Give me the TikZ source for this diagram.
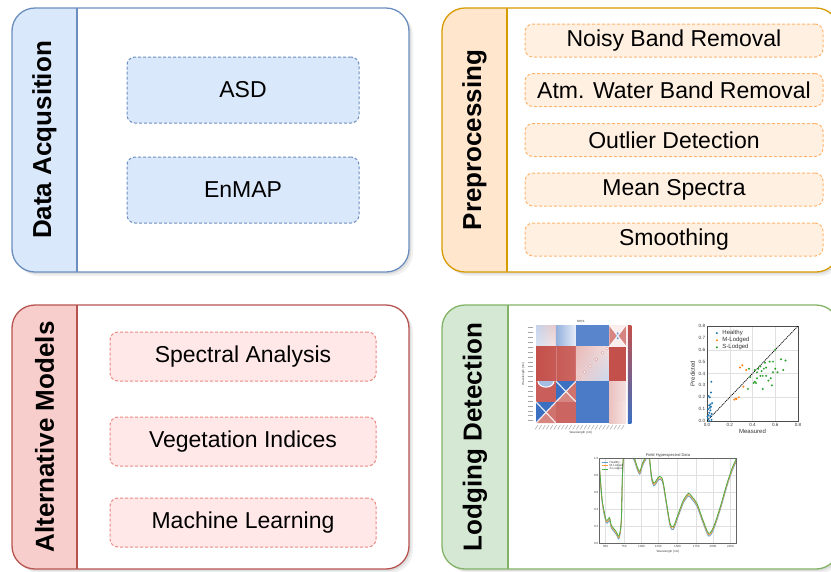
\documentclass[tikz,border=0pt]{standalone}
\usepackage{fontspec}
\setmainfont{Liberation Sans}
\usetikzlibrary{shadings}
\definecolor{bBorder}{HTML}{6C8EBF}
\definecolor{bFill}{HTML}{DAE8FC}
\definecolor{oBorder}{HTML}{D79B00}
\definecolor{oFill}{HTML}{FFE6CC}
\definecolor{oInFill}{HTML}{FFF0E1}
\definecolor{oDash}{HTML}{FFB570}
\definecolor{rBorder}{HTML}{B85450}
\definecolor{rFill}{HTML}{F8CECC}
\definecolor{rInFill}{HTML}{FFE8E7}
\definecolor{rDash}{HTML}{EA8884}
\definecolor{gBorder}{HTML}{82B366}
\definecolor{gFill}{HTML}{D5E8D4}
\definecolor{hmR}{HTML}{C4504B}
\definecolor{hmB}{HTML}{3B6FC2}
\definecolor{hblue}{HTML}{1F77B4}
\definecolor{horange}{HTML}{FF7F0E}
\definecolor{hgreen}{HTML}{2CA02C}
\tikzset{
  panelbox/.style={rectangle, fill=white, inner sep=0pt, outer sep=0pt, rounded corners=23pt},
  titletext/.style={font=\fontsize{26}{30}\selectfont\bfseries, inner sep=0pt, rotate=90},
  itembox/.style={rectangle, rounded corners=8pt, dashed, dash pattern=on 3pt off 2pt, line width=1pt, font=\fontsize{23}{27}\selectfont, inner sep=0pt},
  blueitem/.style={itembox, fill=bFill, draw=bBorder, minimum width=232pt, minimum height=66pt},
  orangeitem/.style={itembox, fill=oInFill, draw=oDash, minimum width=298pt, minimum height=33pt},
  reditem/.style={itembox, fill=rInFill, draw=rDash, minimum width=266pt, minimum height=49pt},
  gridc/.style={black!12, line width=0.3pt},
  tinytxt/.style={font=\fontsize{3}{3.5}\selectfont, inner sep=0.4pt, text=black!75},
  smalltxt/.style={font=\fontsize{4.6}{5}\selectfont, inner sep=0.6pt, text=black!80},
  legtxt/.style={font=\fontsize{6}{7}\selectfont, inner sep=0.5pt, text=black!80},
  smudge/.style={black!35, line width=0.5pt},
  xline/.style={white, line width=1.2pt, opacity=0.85},
}
% name, x1, y1, x2, y2, divider x, border colour, title fill, title
\newcommand\mkpanel[9]{%
  \fill[black, opacity=0.06, rounded corners=23pt] (#2+4,#3+4) rectangle (#4+4,#5+4);
  \fill[black, opacity=0.08, rounded corners=23pt] (#2+2,#3+2) rectangle (#4+2,#5+2);
  \node[panelbox, minimum width={(#4-#2)*1pt}, minimum height={(#5-#3)*1pt}] (#1) at ({(#2+#4)/2},{(#3+#5)/2}) {};
  \begin{scope}
    \clip (#2-2,#3-2) rectangle (#6,#5+2);
    \fill[#8, rounded corners=23pt] (#1.north west) rectangle (#1.south east);
  \end{scope}
  \draw[#7, line width=1.3pt, rounded corners=23pt] (#1.north west) rectangle (#1.south east);
  \draw[#7, line width=1.3pt] (#6,#3) -- (#6,#5);
  \node[titletext] (#1t) at ({(#2+#6)/2},{(#3+#5)/2}) {#9};
}
\begin{document}
\begin{tikzpicture}[x=1pt,y=-1pt]
\useasboundingbox (0,0) rectangle (831,571);
\clip (0,0) rectangle (831,571);
\fill[white] (0,0) rectangle (831,571);

% ---------------- panels
\mkpanel{acq}{12}{8}{409}{272}{77}{bBorder}{bFill}{Data Acqusition}
\mkpanel{pre}{442}{8}{839}{272}{507}{oBorder}{oFill}{Preprocessing}
\mkpanel{alt}{12}{305}{409}{569}{77}{rBorder}{rFill}{Alternative Models}
\mkpanel{lod}{442}{305}{839}{569}{508}{gBorder}{gFill}{Lodging Detection}

% ---------------- data acquisition
\node[blueitem] (asd) at (243,90) {ASD};
\node[blueitem] (enmap) at (243,190) {EnMAP};

% ---------------- preprocessing
\node[orangeitem] (noisy) at (674,40.5) {Noisy Band Removal};
\node[orangeitem] (water) at (674,90) {Atm. Water Band Removal};
\node[orangeitem] (outl) at (674,140) {Outlier Detection};
\node[orangeitem] (mean) at (674,189.5) {Mean Spectra};
\node[orangeitem] (smooth) at (674,239.5) {Smoothing};

% ---------------- alternative models
\node[reditem] (spec) at (243,356.5) {Spectral Analysis};
\node[reditem] (veg) at (243,441.5) {Vegetation Indices};
\node[reditem] (ml) at (243,522.5) {Machine Learning};

% ---------------- heatmap (cols 0,.222,.444,.815,1 ; rows 0,.221,.573,.784,1)
\begin{scope}[shift={(536,325)}, x=90pt, y=-98pt]
  % row 1
  \shade[upper left=hmB!30!white, upper right=hmR!30!white, lower left=hmB!20!white, lower right=hmR!15!white] (0,0) rectangle (0.222,0.221);
  \shade[left color=hmB!55!white, right color=hmB!12!white] (0.222,0) rectangle (0.444,0.221);
  \fill[hmB!85!white] (0.444,0) rectangle (0.815,0.221);
  \fill[hmR!10!white] (0.815,0) rectangle (1,0.221);
  \fill[hmR!70!white] (0.815,0) -- (0.9075,0.11) -- (0.815,0.221) -- cycle;
  \fill[hmR!70!white] (1,0) -- (0.9075,0.11) -- (1,0.221) -- cycle;
  \fill[hmB!75!white] (0.9075,0.11) ellipse [x radius=1.6pt, y radius=3.5pt];
  \draw[xline] (0.815,0) -- (1,0.221) (0.815,0.221) -- (1,0);
  % row 2
  \shade[left color=hmR, right color=hmR!88!white] (0,0.221) rectangle (0.444,0.573);
  \draw[hmR!75!white, line width=0.6pt] (0.222,0.221) -- (0.222,0.573);
  \shade[upper left=hmR!40!white, upper right=hmR!18!white, lower left=hmR!28!white, lower right=hmB!28!white] (0.444,0.221) rectangle (0.815,0.573);
  \foreach \cx/\cy in {0.48/0.54, 0.54/0.48, 0.60/0.42, 0.67/0.35, 0.74/0.28, 0.79/0.24}
    \filldraw[fill=white, draw=hmR!55!white, line width=0.4pt] (\cx,\cy) circle (1.5pt);
  \fill[hmR] (0.815,0.221) rectangle (1,0.573);
  % row 3
  \fill[hmR!92!white] (0,0.573) rectangle (0.222,0.784);
  \begin{scope}
    \clip (0,0.573) rectangle (0.222,0.784);
    \filldraw[fill=hmB!45!white, draw=white, line width=1pt] (0.111,0.573) ellipse [x radius=8pt, y radius=6pt];
  \end{scope}
  \fill[hmB] (0.222,0.573) rectangle (0.444,0.784);
  \fill[hmR!80!white] (0.444,0.573) -- (0.333,0.6785) -- (0.444,0.784) -- cycle;
  \fill[hmR!70!white] (0.222,0.784) -- (0.333,0.6785) -- (0.444,0.784) -- cycle;
  \draw[xline] (0.222,0.573) -- (0.444,0.784) (0.222,0.784) -- (0.444,0.573);
  \fill[hmB!92!white] (0.444,0.573) rectangle (0.815,0.784);
  \shade[left color=hmR!35!white, right color=hmR!18!white] (0.815,0.573) rectangle (1,0.784);
  % row 4
  \fill[hmB] (0,0.784) rectangle (0.222,1);
  \fill[hmR!80!white] (0.222,0.784) -- (0.111,0.892) -- (0.222,1) -- cycle;
  \fill[hmR!70!white] (0,1) -- (0.111,0.892) -- (0.222,1) -- cycle;
  \draw[xline] (0,0.784) -- (0.222,1) (0,1) -- (0.222,0.784);
  \fill[hmR!88!white] (0.222,0.784) rectangle (0.444,1);
  \fill[hmB!92!white] (0.444,0.784) rectangle (0.815,1);
  \shade[left color=hmR!35!white, right color=hmR!15!white] (0.815,0.784) rectangle (1,1);
  % colour bar
  \shade[top color=hmR, middle color=white, bottom color=hmB] (1.02,0) rectangle (1.06,1);
  \foreach \i in {0,...,19}
    \draw[smudge] (-0.09,{(\i+0.5)/20}) -- (-0.03,{(\i+0.5)/20});
  \foreach \i in {0,...,23}
    \draw[smudge] ({(\i+0.5)/24},1.02) -- ({(\i+0.5)/24-0.03},1.065);
  \node[tinytxt] (hmtitle) at (0.5,-0.04) {NRHL};
  \node[tinytxt] (hmxl) at (0.5,1.1) {Wavelength (nm)};
  \node[tinytxt, rotate=90] (hmyl) at (-0.14,0.5) {Wavelength (nm)};
\end{scope}

% ---------------- scatter plot
\begin{scope}[shift={(707,421)}, x=113.75pt, y=118.75pt]
  \foreach \v in {0.2,0.4,0.6} {
    \draw[gridc] (\v,0) -- (\v,0.8);
    \draw[gridc] (0,\v) -- (0.8,\v);
  }
  \draw[black!70, line width=0.4pt] (0,0) rectangle (0.8,0.8);
  \draw[black, dashed, dash pattern=on 1.2pt off 0.8pt, line width=0.7pt] (0,0) -- (0.8,0.8);
  \foreach \px/\py in {0.038/0.33, 0.035/0.24, 0.015/0.21, 0.025/0.20, 0.03/0.14, 0.02/0.13, 0.035/0.12, 0.01/0.10, 0.03/0.09, 0.02/0.07, 0.04/0.06, 0.015/0.05, 0.03/0.04, 0.01/0.02, 0.04/0.01, 0.02/0.0, 0.045/0.15, 0.005/0.04, 0.025/0.11}
    \fill[hblue] (\px,\py) circle (1.1pt);
  \foreach \px/\py in {0.31/0.47, 0.29/0.45, 0.345/0.43, 0.32/0.29, 0.24/0.18, 0.26/0.185, 0.28/0.20, 0.255/0.19}
    \fill[horange] (\px,\py) circle (1.1pt);
  \foreach \px/\py in {0.60/0.60, 0.65/0.52, 0.69/0.51, 0.55/0.50, 0.58/0.50, 0.51/0.49, 0.47/0.46, 0.52/0.45, 0.50/0.44, 0.42/0.43, 0.45/0.44, 0.37/0.44, 0.44/0.41, 0.48/0.42, 0.60/0.44, 0.62/0.41, 0.67/0.43, 0.58/0.41, 0.49/0.38, 0.47/0.38, 0.44/0.36, 0.52/0.38, 0.38/0.37, 0.41/0.32, 0.43/0.32, 0.54/0.34, 0.56/0.36, 0.57/0.30, 0.36/0.27, 0.49/0.27, 0.42/0.33}
    \fill[hgreen] (\px,\py) circle (1.1pt);
  \foreach \v/\l [count=\k] in {0/0.0, 0.2/0.2, 0.4/0.4, 0.6/0.6, 0.8/0.8} {
    \node[smalltxt, anchor=north] (sx\k) at (\v,-0.01) {\l};
  }
  \foreach \v/\l [count=\k] in {0/0.0, 0.1/0.1, 0.2/0.2, 0.3/0.3, 0.4/0.4, 0.5/0.5, 0.6/0.6, 0.7/0.7, 0.8/0.8} {
    \node[smalltxt, anchor=east] (sy\k) at (-0.01,\v) {\l};
  }
  \fill[hblue] (0.087,0.74) circle (1.1pt);
  \fill[horange] (0.087,0.68) circle (1.1pt);
  \fill[hgreen] (0.087,0.62) circle (1.1pt);
  \node[legtxt, anchor=west] (lh) at (0.13,0.74) {Healthy};
  \node[legtxt, anchor=west] (lm) at (0.13,0.68) {M-Lodged};
  \node[legtxt, anchor=west] (ls) at (0.13,0.62) {S-Lodged};
  \node[legtxt, anchor=north] (sxl) at (0.4,-0.06) {Measured};
  \node[legtxt, anchor=south, rotate=90] (syl) at (-0.1,0.4) {Predicted};
\end{scope}

% ---------------- spectra plot
\begin{scope}[shift={(599.5,543.5)}, x=137pt, y=85pt]
  \foreach \v in {0.044,0.179,0.307,0.429,0.569,0.706,0.829,0.956}
    \draw[gridc] (\v,0) -- (\v,1);
  \foreach \v in {0.2,0.4,0.6,0.8}
    \draw[gridc] (0,\v) -- (1,\v);
  \begin{scope}
    \clip (0,0) rectangle (1,1);
    \def\spec{(0,0.874) (0.0196,0.48) (0.049,0.244) (0.0735,0.272) (0.0858,0.185) (0.1225,0.106) (0.142,0.055) (0.159,0.244) (0.176,1.0) (0.245,1.0) (0.2745,0.874) (0.294,0.815) (0.314,0.913) (0.343,1.0) (0.363,0.992) (0.38,0.756) (0.397,0.677) (0.417,0.717) (0.436,0.756) (0.461,0.717) (0.49,0.441) (0.515,0.205) (0.539,0.165) (0.576,0.323) (0.613,0.48) (0.65,0.559) (0.674,0.52) (0.711,0.441) (0.755,0.244) (0.797,0.087) (0.833,0.165) (0.882,0.402) (0.931,0.677) (0.968,0.854) (1.0,0.972)}
    \draw[hblue!70!white, line width=0.8pt] plot[smooth, tension=0.45] coordinates {\spec};
    \draw[horange!80!white, line width=0.8pt, yshift=1.4pt] plot[smooth, tension=0.45] coordinates {\spec};
    \draw[hgreen!85!white, line width=0.8pt, yshift=2.8pt] plot[smooth, tension=0.45] coordinates {\spec};
  \end{scope}
  \draw[black!60, line width=0.3pt] (0,0) rectangle (1,1);
  \draw[hblue!70!white, line width=0.5pt] (0.02,0.955) -- (0.06,0.955);
  \draw[horange!80!white, line width=0.5pt] (0.02,0.915) -- (0.06,0.915);
  \draw[hgreen!85!white, line width=0.5pt] (0.02,0.875) -- (0.06,0.875);
  \node[tinytxt, anchor=west] (slh) at (0.07,0.955) {Healthy};
  \node[tinytxt, anchor=west] (slm) at (0.07,0.915) {M-Lodged};
  \node[tinytxt, anchor=west] (sls) at (0.07,0.875) {S-Lodged};
  \node[font=\fontsize{4}{4.5}\selectfont, inner sep=0.5pt, text=black!75, anchor=south] (stitle) at (0.5,1.0) {Field Hyperspectral Data};
  \foreach \v/\l [count=\k] in {0.044/500, 0.179/750, 0.307/1000, 0.429/1250, 0.569/1500, 0.706/1750, 0.829/2000, 0.956/2250}
    \node[tinytxt, anchor=north] (tx\k) at (\v,-0.01) {\l};
  \foreach \v/\l [count=\k] in {0/0.0, 0.2/0.2, 0.4/0.4, 0.6/0.6, 0.8/0.8, 1/1.0}
    \node[tinytxt, anchor=east] (ty\k) at (-0.005,\v) {\l};
  \node[tinytxt, anchor=north] (txl) at (0.5,-0.07) {Wavelength (nm)};
\end{scope}
\end{tikzpicture}
\end{document}
